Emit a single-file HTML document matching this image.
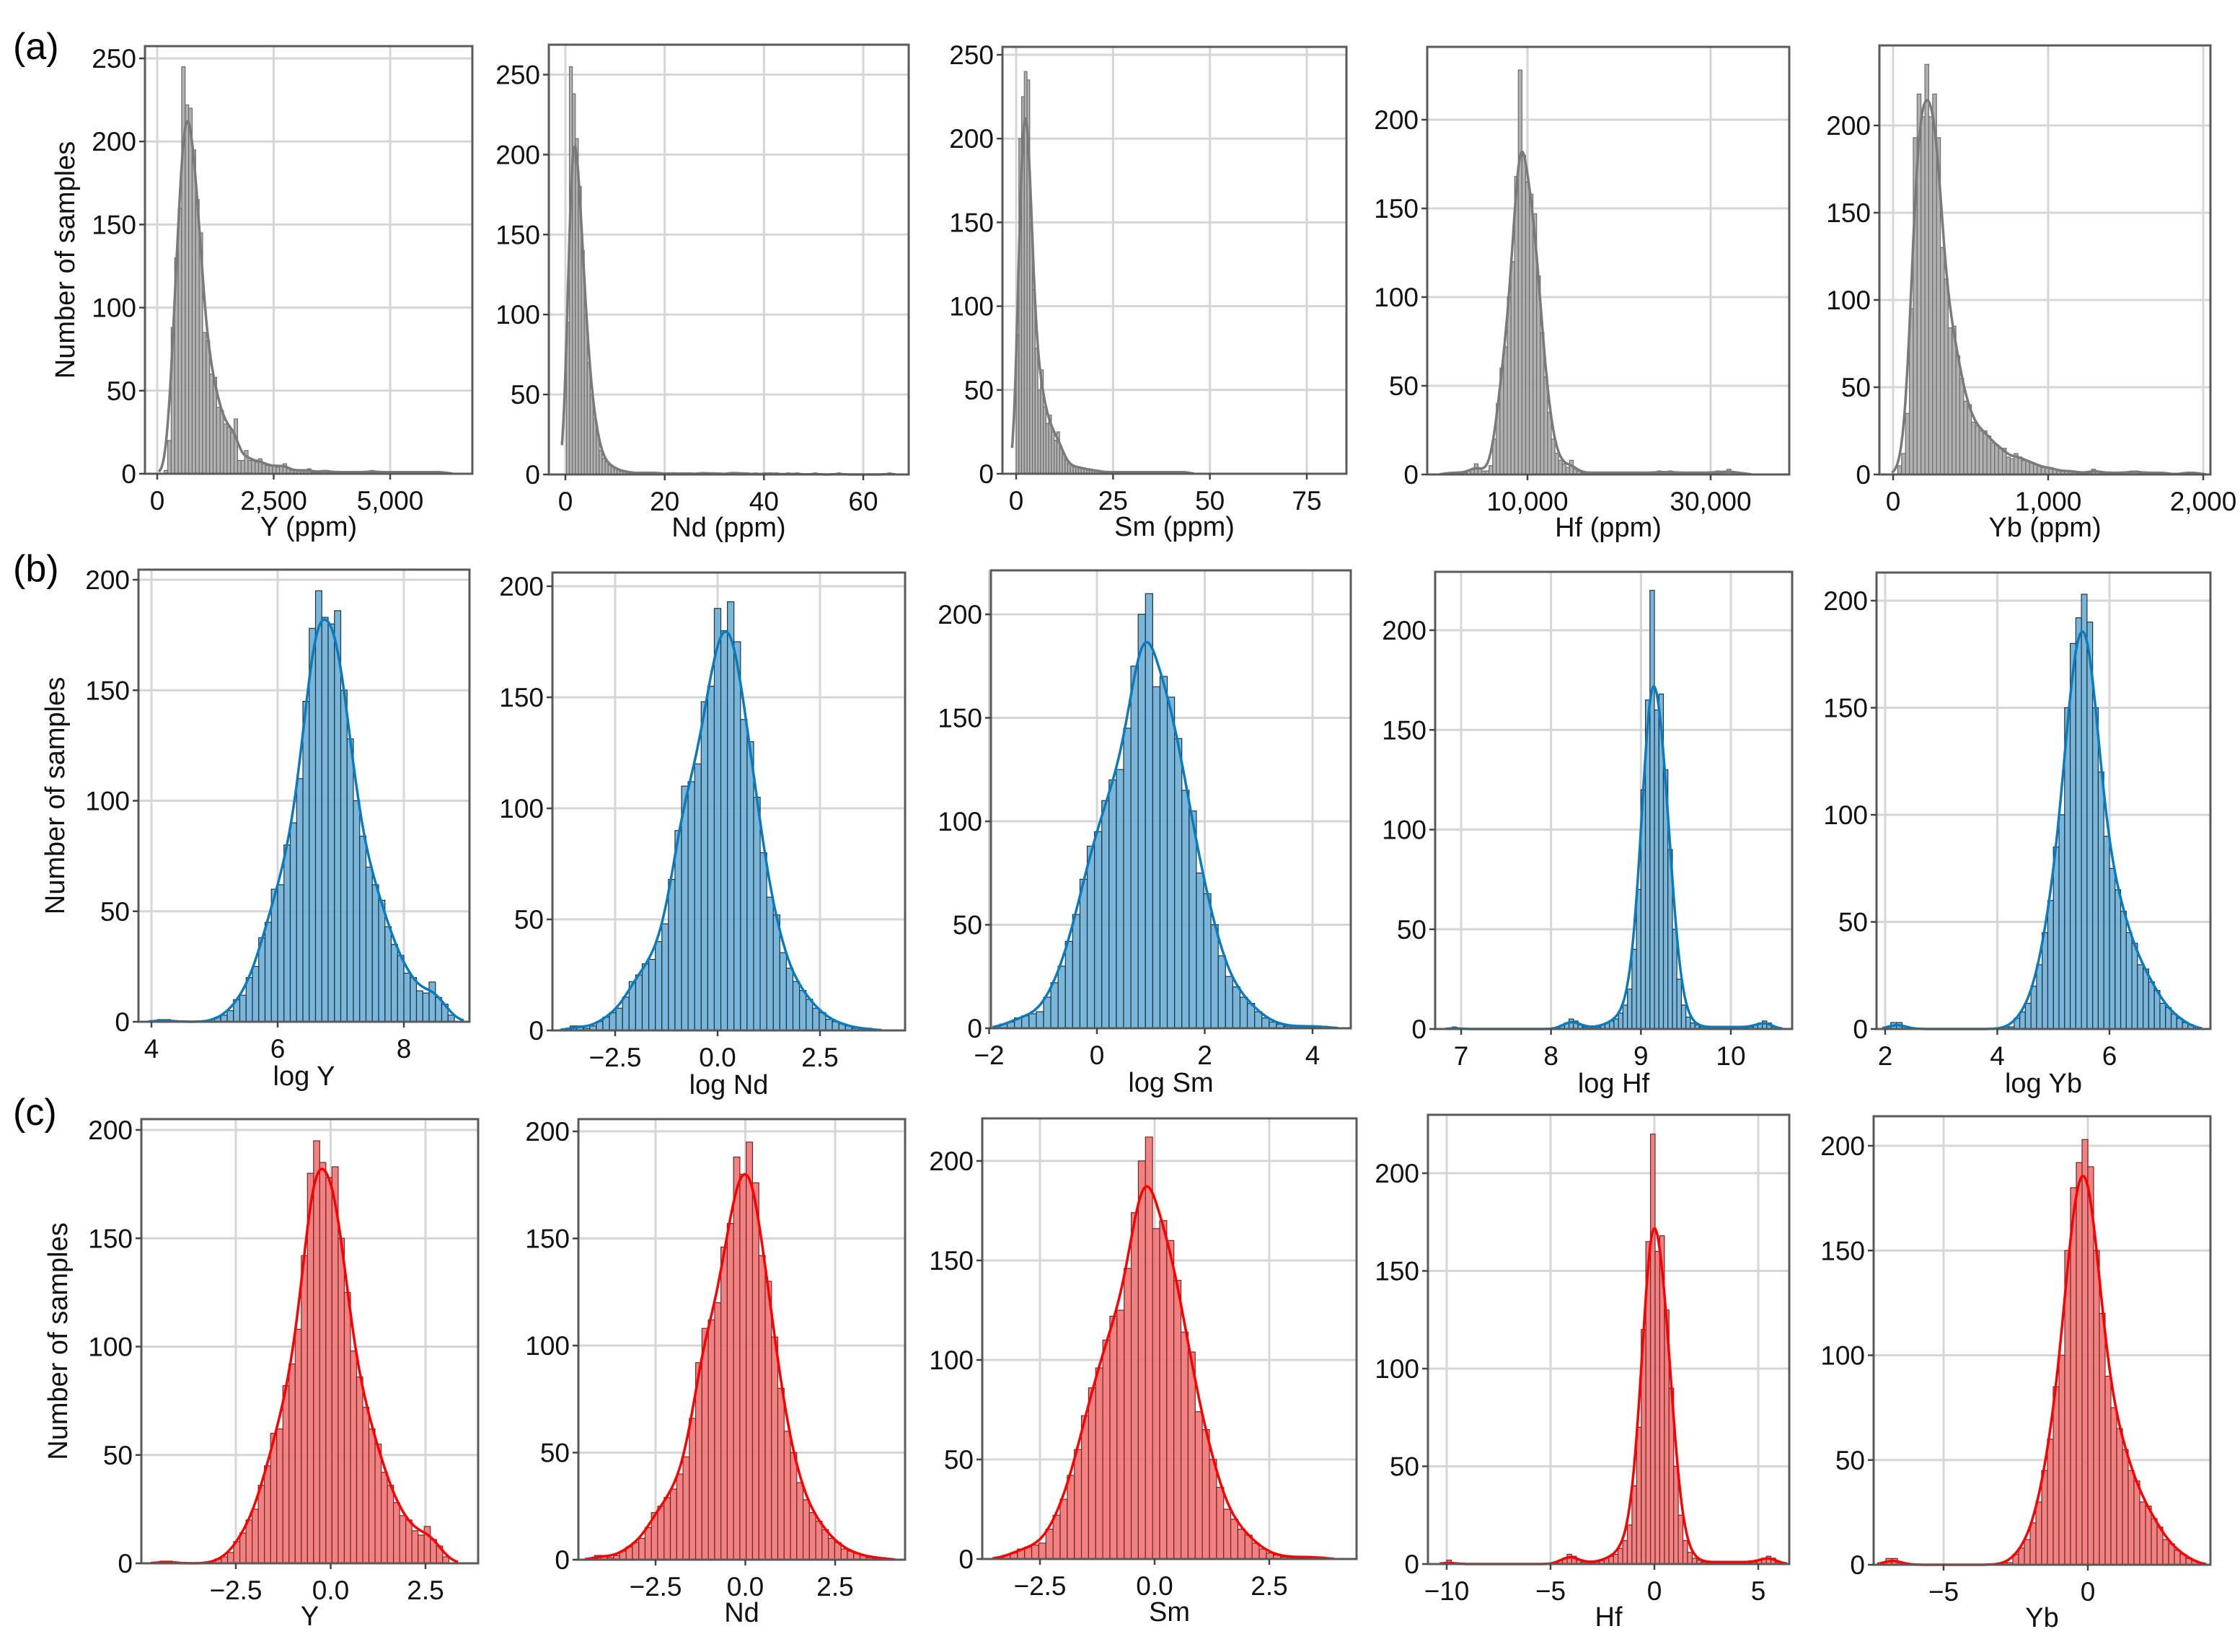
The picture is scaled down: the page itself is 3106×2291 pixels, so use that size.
<!DOCTYPE html>
<html><head><meta charset="utf-8">
<style>
html,body{margin:0;padding:0;background:#fff;}
svg{display:block;font-family:"Liberation Sans",Arial,sans-serif;}
</style></head>
<body>
<svg id="fig" xmlns="http://www.w3.org/2000/svg" width="3106" height="2291" viewBox="0 0 3106 2291">
<rect width="3106" height="2291" fill="#fff"/>
<text x="18" y="82" font-size="52">(a)</text>
<text x="18" y="806" font-size="52">(b)</text>
<text x="18" y="1560" font-size="52">(c)</text>
</svg>
<script>
// ---- data: histogram counts (start value, bin width, counts) ----
const a1Counts=[2,20,88,130,160,245,222,220,195,165,145,85,80,60,58,40,38,30,28,25,33,8,8,14,8,8,7,9,6,5,5,5,4,5,6,3,2,2,2,2,2,3,1,1,1,2,2,1,1,1,1,1,1,1,1,1,1,1,1,2,1,1,1,1,1,1,1,1,1,1,1,1,1,1,1,1,1,1,1,1,1];
const a2Counts=[95,255,238,210,180,140,100,70,50,35,25,15,10,8,6,5,4,3,2,2,2,1,1,1,1,1,1,1,1,1,1,1,0,1,0,1,1,0,1,0,1,1,0,0,1,1,1,0,1,1,0,1,0,0,1,1,1,1,0,1,1,0,0,1,0,0,1,0,1,0,1,0,0,0,1,0,0,1,0,0,0,0,0,1,0,0,0,0,0,0,0,1,0,0,0,0,0,0,0,0,0,0,0,0,0,0,0,0,1];
const a3Counts=[83,200,225,240,235,150,110,75,50,62,40,30,35,25,20,25,15,12,8,6,5,4,4,4,3,3,3,2,2,2,2,1,1,1,1,1,1,1,1,1,1,1,1,1,1,1,1,1,1,1,1,1,1,1,1,1,1,1,1,1,1,1,1,1];
const a4Counts=[1,1,1,1,1,1,2,3,6,3,2,2,5,20,40,60,72,100,120,168,228,180,165,158,147,112,80,55,35,20,12,8,6,4,8,3,2,1,1,1,1,1,1,1,1,1,1,1,1,1,1,1,1,1,1,1,1,1,2,1,1,2,1,1,1,1,1,1,1,1,1,1,1,1,2,1,1,3,1,1,1,1];
const a5Counts=[5,12,35,95,193,218,205,235,205,218,193,130,112,84,85,68,55,42,40,30,28,25,25,22,18,17,15,15,10,9,12,10,8,8,7,6,5,4,4,4,3,2,2,2,2,2,1,1,1,1,3,2,1,1,1,1,1,1,1,1,2,2,1,1,1,1,1,1,1,1,0,0,0,1,1,1,1,1];
const b1Counts=[1,1,0,0,0,0,0,0,0,2,3,5,10,12,20,25,38,45,60,62,80,90,110,145,178,195,183,180,186,150,128,100,84,70,62,55,43,35,30,22,20,14,13,18,11,8,3];
const b2Counts=[2,2,1,2,4,6,8,10,15,22,25,30,32,40,48,68,90,110,112,120,148,155,190,180,193,175,140,130,105,80,60,52,35,28,22,18,14,10,8,5,4,3,2,1,1,1];
const b3Counts=[2,3,5,6,7,8,15,22,30,42,55,72,88,95,110,120,125,145,175,200,210,165,170,160,140,115,105,75,65,50,35,25,20,15,12,8,5,3,2,1,1,1,1,1,1];
const b4Counts=[1,0,0,0,0,0,0,0,0,0,0,0,0,0,0,0,0,0,0,0,0,0,0,0,2,3,5,4,2,1,1,1,1,2,3,4,5,8,12,20,40,70,120,165,220,160,168,130,90,50,25,12,6,3,2,1,1,1,1,1,1,1,1,1,1,1,1,2,3,4,3,1];
const b5Counts=[3,3,1,0,0,0,0,0,0,0,0,0,0,0,0,0,0,0,0,0,1,1,5,8,12,20,30,45,60,85,100,150,180,192,203,190,150,120,90,75,65,55,45,40,30,28,22,18,12,10,7,5,3,2];
const c1Counts=[1,1,0,0,0,0,0,0,0,2,3,5,10,14,20,25,36,45,60,62,82,92,108,142,180,195,185,178,183,150,125,98,86,72,62,55,42,36,28,22,20,15,13,17,11,8,3];
const c2Counts=[2,2,1,2,4,6,8,10,15,22,25,29,33,40,48,66,92,108,112,120,146,157,188,180,195,176,142,130,104,80,60,50,36,28,22,18,14,10,8,5,4,3,2,1,1,1];
const c3Counts=[2,3,5,6,7,8,15,22,30,42,55,72,86,96,110,122,125,146,174,200,212,166,170,160,140,114,104,74,65,50,36,25,20,15,12,8,5,3,2,1,1,1,1,1,1];
const c4Counts=[2,0,0,0,0,0,0,0,0,0,0,0,0,0,0,0,0,0,0,0,0,0,0,0,2,3,5,4,2,1,1,1,1,2,3,4,5,8,12,20,40,70,120,165,220,160,168,130,90,50,25,12,6,3,2,1,1,1,1,1,1,1,1,1,1,1,1,2,3,4,3,1];
const c5Counts=[3,3,1,0,0,0,0,0,0,0,0,0,0,0,0,0,0,0,0,0,1,1,5,8,12,20,30,45,60,85,100,150,180,192,203,190,150,120,90,75,65,55,45,40,30,28,22,18,12,10,7,5,3,2];
const binStarts=[150,0.2,0,1000,30, 4.1,-3.6,-1.8,6.9,2.1, -4.5,-4.2,-3.3,-10.0,-7.0];
const binWidths=[75,0.6,0.7,400,25, 0.1,0.16,0.135,0.05,0.1, 0.162,0.176,0.155,0.223,0.2];
const xTicks=[[0,2500,5000],[0,20,40,60],[0,25,50,75],[10000,30000],[0,1000,2000],
 [4,6,8],[-2.5,0,2.5],[-2,0,2,4],[7,8,9,10],[2,4,6],
 [-2.5,0,2.5],[-2.5,0,2.5],[-2.5,0,2.5],[-10,-5,0,5],[-5,0]];
const xTickLabels=[["0","2,500","5,000"],["0","20","40","60"],["0","25","50","75"],["10,000","30,000"],["0","1,000","2,000"],
 ["4","6","8"],["\u22122.5","0.0","2.5"],["\u22122","0","2","4"],["7","8","9","10"],["2","4","6"],
 ["\u22122.5","0.0","2.5"],["\u22122.5","0.0","2.5"],["\u22122.5","0.0","2.5"],["\u221210","\u22125","0","5"],["\u22125","0"]];
const yTicksA=[0,50,100,150,200,250];
const yTicksA2=[0,50,100,150,200];
const yTicksBC=[0,50,100,150,200];
const xLabels=["Y (ppm)","Nd (ppm)","Sm (ppm)","Hf (ppm)","Yb (ppm)","log Y","log Nd","log Sm","log Hf","log Yb","Y","Nd","Sm","Hf","Yb"];
const allCounts=[a1Counts,a2Counts,a3Counts,a4Counts,a5Counts,b1Counts,b2Counts,b3Counts,b4Counts,b5Counts,c1Counts,c2Counts,c3Counts,c4Counts,c5Counts];

// ---- layout (pixel geometry) ----
const layout=[
 {l:201,r:655,t:64,b:657,k:2.304,xc:[0,218,5000,541]},
 {l:761,r:1260,t:62,b:658,k:2.218,xc:[0,784,60,1197]},
 {l:1390,r:1867,t:65,b:657,k:2.324,xc:[0,1409,75,1812]},
 {l:1979,r:2481,t:65,b:658,k:2.46,xc:[10000,2118,30000,2372]},
 {l:2606,r:3065,t:63,b:658,k:2.42,xc:[0,2625,1000,2840]},
 {l:192,r:651,t:790,b:1417,k:3.065,xc:[4,210,8,560]},
 {l:766,r:1255,t:794,b:1429,k:3.08,xc:[-2.5,853,2.5,1137]},
 {l:1374,r:1873,t:791,b:1426,k:2.87,xc:[0,1521,4,1820]},
 {l:1990,r:2485,t:793,b:1427,k:2.765,xc:[7,2026,10,2400]},
 {l:2602,r:3065,t:794,b:1427,k:2.97,xc:[2,2614,6,2925]},
 {l:196,r:663,t:1552,b:2168,k:3.005,xc:[-2.5,327,2.5,590]},
 {l:802,r:1255,t:1552,b:2163,k:2.97,xc:[-2.5,909,2.5,1158]},
 {l:1362,r:1881,t:1551,b:2162,k:2.76,xc:[-2.5,1442,2.5,1760]},
 {l:1980,r:2481,t:1546,b:2169,k:2.71,xc:[-10,2006,5,2438]},
 {l:2598,r:3065,t:1548,b:2170,k:2.905,xc:[-5,2695,0,2895]}
];
const styles=[
 {fill:"#a9a9a9",edge:"#6e6e6e",kde:"#7a7a7a"},
 {fill:"#6aaed6",edge:"#1f3340",kde:"#0a7bbd"},
 {fill:"#f27373",edge:"#6b2a2a",kde:"#ff0000"}
];
const NS="http://www.w3.org/2000/svg";
const svg=document.getElementById('fig');
function mk(tag,attrs,parent){const e=document.createElementNS(NS,tag);for(const k in attrs)e.setAttribute(k,attrs[k]);(parent||svg).appendChild(e);return e;}

layout.forEach((L,i)=>{
  const row=Math.floor(i/5), st=styles[row];
  const counts=allCounts[i];
  const g=mk('g',{});
  
  
  const xs=v=>L.xc[1]+(v-L.xc[0])*(L.xc[3]-L.xc[1])/(L.xc[2]-L.xc[0]);
  const ys=c=>L.b-c*L.k;
  const yt=row===0?(i<3?yTicksA:yTicksA2):yTicksBC;
  yt.forEach(v=>{const y=ys(v);const ln=mk('line',{x1:L.l,x2:L.r,y1:y,y2:y,stroke:"#d6d6d6","stroke-width":3},g);
    });
  xTicks[i].forEach(v=>{const x=xs(v);const ln=mk('line',{x1:x,x2:x,y1:L.t,y2:L.b,stroke:"#d6d6d6","stroke-width":3},g);
    });
  const s=binStarts[i], w=binWidths[i];
  counts.forEach((c,j)=>{ if(c<=0) return;
    const x1=xs(s+j*w), x2=xs(s+(j+1)*w);
    const r=mk('rect',{x:x1,y:ys(c),width:Math.max(0.5,x2-x1),height:c*L.k,fill:st.fill,stroke:st.edge,"stroke-width":1.2,"fill-opacity":0.9},g);
    
    
  });
  const sig=1.4, pts=[];
  for(let j=-2;j<=counts.length+1;j+=0.25){
    let num=0;
    for(let m=0;m<counts.length;m++){const d=(m-j)/sig;num+=Math.exp(-0.5*d*d)*counts[m];}
    const val=num/Math.sqrt(2*Math.PI)/sig;
    const px=xs(s+(j+0.5)*w);
    if(px<L.l||px>L.r) continue;
    pts.push(px.toFixed(1)+','+ys(val).toFixed(1));
  }
  const p=mk('polyline',{points:pts.join(' '),fill:"none",stroke:st.kde,"stroke-width":3.5,"stroke-linejoin":"round"},g);
  
  
  const fr=mk('rect',{x:L.l,y:L.t,width:L.r-L.l,height:L.b-L.t,fill:"none",stroke:"#5a5a5a","stroke-width":3},g);
  
  
  yt.forEach(v=>{const y=ys(v);
    mk('line',{x1:L.l-8,x2:L.l,y1:y,y2:y,stroke:"#444","stroke-width":2.5},g);
    const t=mk('text',{x:L.l-12,y:y+13,"font-size":37,"text-anchor":"end",fill:"#111"},g);
    t.textContent=String(v);
    
    
  });
  xTicks[i].forEach((v,j)=>{const x=xs(v);
    mk('line',{x1:x,x2:x,y1:L.b,y2:L.b+8,stroke:"#444","stroke-width":2.5},g);
    const t=mk('text',{x:x,y:L.b+50,"font-size":37,"text-anchor":"middle",fill:"#111"},g);
    t.textContent=xTickLabels[i][j];
    
    
  });
  const xl=mk('text',{x:(L.l+L.r)/2,y:L.b+(row===0?86:row===1?88:86),"font-size":38,"text-anchor":"middle",fill:"#111"},g);
  xl.textContent=xLabels[i];
  
  
  if(i%5===0){
    const cx=row===0?93:row===1?79:83, cy=(L.t+L.b)/2;
    const yl=mk('text',{x:cx,y:cy,"font-size":38,"text-anchor":"middle",fill:"#111",transform:`rotate(-90 ${cx} ${cy})`,"dominant-baseline":"middle"},g);
    yl.textContent="Number of samples";
    
    
  }
});
</script>
</body></html>
